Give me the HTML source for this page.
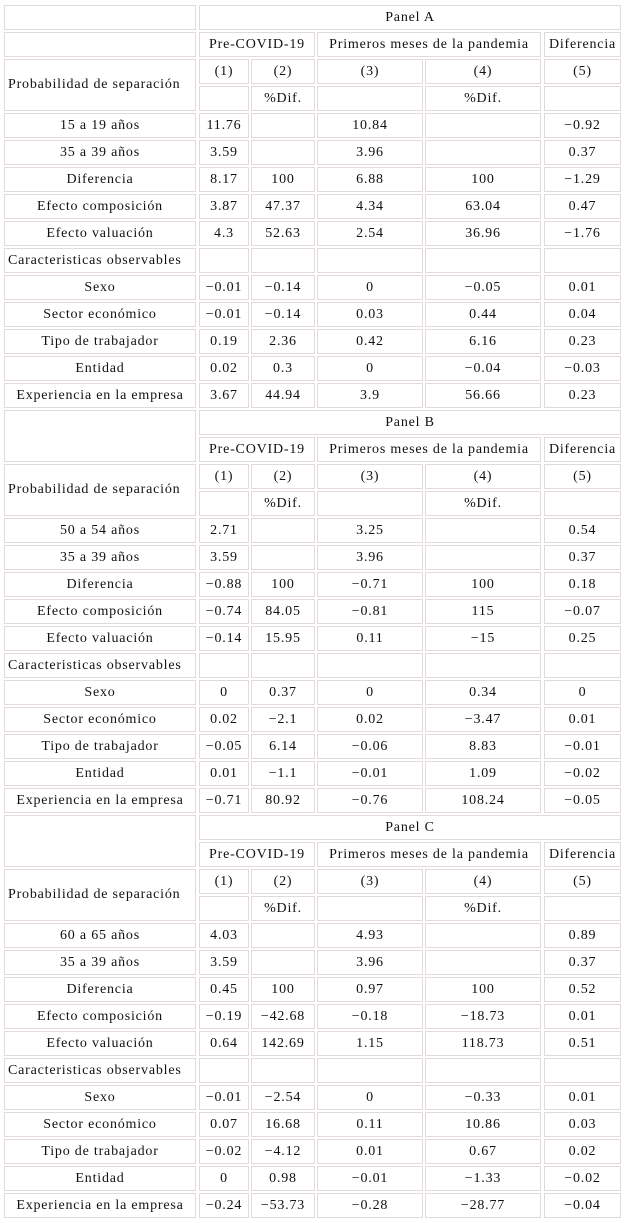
<!DOCTYPE html>
<html><head><meta charset="utf-8"><style>
body{margin:0;background:#fff;width:624px;height:1223px;position:relative;overflow:hidden;font-family:"Liberation Serif",serif;font-size:14px;letter-spacing:0.8px;color:#111}
.c{position:absolute;box-sizing:border-box;border:1px solid #e2d9dd;display:flex;align-items:center;justify-content:center;white-space:nowrap}
.l{justify-content:flex-start;padding-left:3px}
</style></head><body>
<script>
const colX=[[4,196],[199,249],[251,315],[317,423],[425,541],[544,621]];
const panels=["Panel A","Panel B","Panel C"];
const groupA=["15 a 19 años","50 a 54 años","60 a 65 años"];
const rowLabels=["GROUP","35 a 39 años","Diferencia","Efecto composición","Efecto valuación","Caracteristicas observables","Sexo","Sector económico","Tipo de trabajador","Entidad","Experiencia en la empresa"];
const valuesA=[["11.76","","10.84","","-0.92"],["3.59","","3.96","","0.37"],["8.17","100","6.88","100","-1.29"],["3.87","47.37","4.34","63.04","0.47"],["4.3","52.63","2.54","36.96","-1.76"],null,["-0.01","-0.14","0","-0.05","0.01"],["-0.01","-0.14","0.03","0.44","0.04"],["0.19","2.36","0.42","6.16","0.23"],["0.02","0.3","0","-0.04","-0.03"],["3.67","44.94","3.9","56.66","0.23"]];
const valuesB=[["2.71","","3.25","","0.54"],["3.59","","3.96","","0.37"],["-0.88","100","-0.71","100","0.18"],["-0.74","84.05","-0.81","115","-0.07"],["-0.14","15.95","0.11","-15","0.25"],null,["0","0.37","0","0.34","0"],["0.02","-2.1","0.02","-3.47","0.01"],["-0.05","6.14","-0.06","8.83","-0.01"],["0.01","-1.1","-0.01","1.09","-0.02"],["-0.71","80.92","-0.76","108.24","-0.05"]];
const valuesC=[["4.03","","4.93","","0.89"],["3.59","","3.96","","0.37"],["0.45","100","0.97","100","0.52"],["-0.19","-42.68","-0.18","-18.73","0.01"],["0.64","142.69","1.15","118.73","0.51"],null,["-0.01","-2.54","0","-0.33","0.01"],["0.07","16.68","0.11","10.86","0.03"],["-0.02","-4.12","0.01","0.67","0.02"],["0","0.98","-0.01","-1.33","-0.02"],["-0.24","-53.73","-0.28","-28.77","-0.04"]];
const allVals=[valuesA,valuesB,valuesC];
function cell(c0,c1,r,rs,txt,name,left){
  const d=document.createElement('div');
  d.className='c'+(left?' l':'');
  const top=5+27*r;
  d.style.left=colX[c0][0]+'px';d.style.width=(colX[c1][1]-colX[c0][0])+'px';
  d.style.top=top+'px';d.style.height=(27*rs-2)+'px';
  d.textContent=txt.replace(/^-/,'\u2212');
  
  
  document.body.appendChild(d);
}
panels.forEach((p,pi)=>{
  const b=pi*15;
  if(pi===0){cell(0,0,b,1,'','blank-cell');cell(0,0,b+1,1,'','blank-cell');}
  else cell(0,0,b,2,'','blank-cell');
  cell(1,5,b,1,p,'panel-title');
  cell(1,2,b+1,1,'Pre-COVID-19','header-pre-covid');
  cell(3,4,b+1,1,'Primeros meses de la pandemia','header-pandemia');
  cell(5,5,b+1,1,'Diferencia','header-diferencia');
  cell(0,0,b+2,2,'Probabilidad de separación','row-label',true);
  ['(1)','(2)','(3)','(4)','(5)'].forEach((t,i)=>cell(i+1,i+1,b+2,1,t,'column-number'));
  ['','%Dif.','','%Dif.',''].forEach((t,i)=>cell(i+1,i+1,b+3,1,t,'column-unit'));
  rowLabels.forEach((lab,ri)=>{
    const r=b+4+ri;
    const L=ri===0?groupA[pi]:lab;
    cell(0,0,r,1,L,'row-label',ri===5);
    const vals=allVals[pi][ri];
    for(let i=0;i<5;i++)cell(i+1,i+1,r,1,vals?vals[i]:'','value-cell');
  });
});
</script>
</body></html>
